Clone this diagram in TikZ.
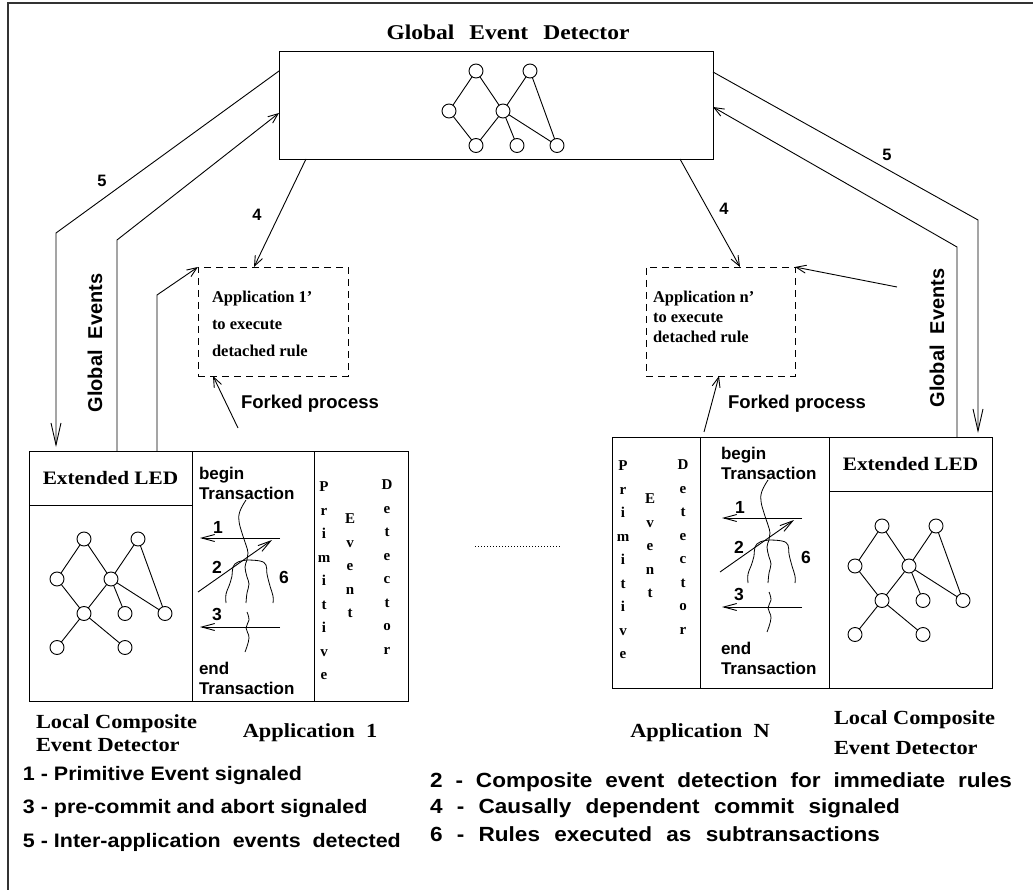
\documentclass[tikz,border=0pt]{standalone}
\usepackage{fontspec}
\setmainfont{Liberation Serif}
\setsansfont{Liberation Sans}
\newfontfamily\wideserif[FakeStretch=1.12]{Liberation Serif}
\newfontfamily\widesans[FakeStretch=1.1]{Liberation Sans}
\usetikzlibrary{arrows.meta,calc}

\newcommand\fsz[2]{\fontsize{#1}{#2}\selectfont}

\tikzset{
  gnode/.style={circle,draw,minimum size=14pt,inner sep=0pt,fill=white},
  colbox/.style={draw,anchor=north west,inner sep=0pt},
  dashbox/.style={draw,anchor=north west,dash pattern=on 7pt off 5pt,line width=0.9pt},
  titlefont/.style={font=\wideserif\bfseries\fsz{21}{25}},
  ledfont/.style={font=\wideserif\bfseries\fsz{19}{23}},
  capfont/.style={font=\wideserif\bfseries\fsz{20}{23}},
  capfontwide/.style={font=\wideserif\bfseries\fsz{20}{30}},
  appfont/.style={font=\bfseries\fsz{16.5}{27}},
  appfontn/.style={font=\bfseries\fsz{16.5}{20}},
  pedfont/.style={font=\bfseries\fsz{15}{23.5},align=center},
  txfont/.style={font=\sffamily\bfseries\fsz{17}{20},align=left,anchor=west},
  numfont/.style={font=\sffamily\bfseries\fsz{17.5}{20}},
  lblfont/.style={font=\sffamily\bfseries\fsz{16.5}{19}},
  forkfont/.style={font=\sffamily\bfseries\fsz{18.5}{22}},
  gefont/.style={font=\sffamily\bfseries\fsz{20}{24}},
  legfont/.style={font=\widesans\bfseries\fsz{19.5}{23},anchor=west},
  legfontr/.style={font=\widesans\bfseries\fsz{20.5}{23},anchor=west},
  bigarrow/.style={-{Straight Barb[length=22pt,width=10pt]}},
  midarrow/.style={-{Straight Barb[length=10pt,width=8pt]}},
  txarrow/.style={-{Straight Barb[length=13pt,width=7pt]}},
  wave/.style={line width=0.8pt},
}

% event graph: #1 name prefix, (#2,#3) top-left circle, #4 = 1 adds the fourth row
\newcommand\evgraph[4]{%
  \begin{scope}[shift={(#2,#3)}]
    \node[gnode] (#1a) at (0,0) {};
    \node[gnode] (#1b) at (54,0) {};
    \node[gnode] (#1c) at (-27,40) {};
    \node[gnode] (#1d) at (27,40) {};
    \node[gnode] (#1e) at (0,74.5) {};
    \node[gnode] (#1f) at (41,74.5) {};
    \node[gnode] (#1g) at (81,74.5) {};
    \draw (#1a) -- (#1c); \draw (#1a) -- (#1d);
    \draw (#1b) -- (#1d); \draw (#1b) -- (#1g);
    \draw (#1c) -- (#1e); \draw (#1d) -- (#1e);
    \draw (#1d) -- (#1f); \draw (#1d) -- (#1g);
    \ifnum#4=1
      \node[gnode] (#1h) at (-27,108.5) {};
      \node[gnode] (#1i) at (41,108.5) {};
      \draw (#1e) -- (#1h); \draw (#1e) -- (#1i);
    \fi
  \end{scope}}

% transaction column: signals, subtransaction threads and labels; #1 name prefix
\newcommand\txcontent[1]{%
  \node[txfont] (#1begin) at (199,483) {begin\\Transaction};
  \node[txfont] (#1end) at (199,678) {end\\Transaction};
  \coordinate (#1s1) at (280,538); \coordinate (#1e1) at (200,538);
  \coordinate (#1s2) at (198,592); \coordinate (#1e2) at (272,540);
  \coordinate (#1s3) at (280,627); \coordinate (#1e3) at (200,627);
  \draw[txarrow] (#1s1) -- (#1e1);
  \draw[txarrow] (#1s2) -- (#1e2);
  \draw[txarrow] (#1s3) -- (#1e3);
  \draw[wave] plot[smooth,tension=0.7] coordinates {(246,500) (240,511) (239,521) (242,533) (246,545) (248,553) (247,560) (245,567) (247,577) (249,584) (247,593) (246,603)};
  \draw[wave] plot[smooth,tension=0.7] coordinates {(247,612) (249,620) (246,628) (249,638) (245,652)};
  \draw[wave] plot[smooth,tension=0.7] coordinates {(247,560) (238,562) (233,567) (232,576) (229,586) (226,594) (226,603)};
  \draw[wave] plot[smooth,tension=0.7] coordinates {(247,560) (260,561) (266,565) (267,574) (270,586) (273,596) (273,603)};
  \node[numfont] (#1n1) at (218,527) {1};
  \node[numfont] (#1n2) at (217,567) {2};
  \node[numfont] (#1n3) at (217,614) {3};
  \node[numfont] (#1n6) at (284,577) {6};
}

\begin{document}
\begin{tikzpicture}[x=1pt,y=-1pt,line width=0.9pt,
  every node/.style={inner sep=0pt,outer sep=0pt}]
\useasboundingbox (0,0) rectangle (1033,890);
\fill[white] (0,0) rectangle (1033,890);

% page frame
\draw[line width=1.2pt,black!80] (8,890) -- (8,3) -- (1033,3);

% global event detector
\node[titlefont] (gedtitle) at (508,32) {Global\hspace{15pt}Event\hspace{15pt}Detector};
\node[draw,minimum width=434pt,minimum height=108pt] (ged) at (496,105) {};
\evgraph{g}{476}{71}{0}

% left site: local composite event detector and application 1
\node[colbox,minimum width=163pt,minimum height=250pt] (ledl) at (29,451) {};
\node[colbox,minimum width=122pt,minimum height=250pt] (txl) at (192,451) {};
\node[colbox,minimum width=94pt,minimum height=250pt] (pedl) at (314,451) {};
\node[colbox,minimum width=163pt,minimum height=54pt,ledfont] (ledhl) at (29,451) {Extended LED};
\evgraph{l}{84}{539}{1}
\txcontent{tl}
\node[pedfont] (pedl1) at (324,581) {P\\r\\i\\m\\i\\t\\i\\v\\e};
\node[pedfont] (pedl2) at (350,566) {E\\v\\e\\n\\t};
\node[pedfont] (pedl3) at (387,567) {D\\e\\t\\e\\c\\t\\o\\r};

% right site: application N and its local composite event detector
\node[colbox,minimum width=88pt,minimum height=251pt] (pedr) at (612,437) {};
\node[colbox,minimum width=129pt,minimum height=251pt] (txr) at (700,437) {};
\node[colbox,minimum width=163pt,minimum height=251pt] (ledr) at (829,437) {};
\node[colbox,minimum width=163pt,minimum height=54pt,ledfont] (ledhr) at (829,437) {Extended LED};
\evgraph{r}{882}{526}{1}
\begin{scope}[shift={(522,-20)}]
  \txcontent{tr}
\end{scope}
\node[pedfont] (pedr1) at (623,560) {P\\r\\i\\m\\i\\t\\i\\v\\e};
\node[pedfont] (pedr2) at (650,546) {E\\v\\e\\n\\t};
\node[pedfont] (pedr3) at (683,547) {D\\e\\t\\e\\c\\t\\o\\r};

% forked applications for detached rules
\node[dashbox,minimum width=150pt,minimum height=109pt] (app1) at (198,267) {};
\node[appfont,anchor=north west,align=left] (app1txt) at (212,291) {Application 1'\\to execute\\detached rule};
\node[dashbox,minimum width=149pt,minimum height=109pt] (appn) at (646,267) {};
\node[appfontn,anchor=north west,align=left] (appntxt) at (653,291) {Application n'\\to execute\\detached rule};

% connectors, left
\coordinate (k5l) at (56,233);
\draw[bigarrow,shorten >=4pt] ([yshift=-20pt]ged.north west) -- (k5l) -- (k5l |- ledhl.north);
\coordinate (kgl) at (117,240);
\draw[midarrow] (kgl |- ledhl.north) -- (kgl) -- ([yshift=-62pt]ged.north west);
\coordinate (kfl) at (157,295);
\draw[midarrow] (kfl |- ledhl.north) -- (kfl) -- (app1.north west);
\coordinate (kfl2) at (238,428);
\draw[midarrow] (kfl2) -- ([xshift=15pt]app1.south west);
\draw[midarrow] ([xshift=27pt]ged.south west) -- ([xshift=56pt]app1.north west);

% connectors, right
\draw[midarrow] ([xshift=401pt]ged.south west) -- ([xshift=94pt]appn.north west);
\coordinate (k5r) at (978,220);
\draw[bigarrow,shorten >=4pt] ([yshift=-21pt]ged.north east) -- (k5r) -- (k5r |- ledhr.north);
\coordinate (kgr) at (957,247);
\draw[midarrow] (kgr |- ledhr.north) -- (kgr) -- ([yshift=-56pt]ged.north east);
\coordinate (kfr) at (897,287);
\draw[midarrow] (kfr) -- (appn.north east);
\coordinate (kfr2) at (704,432);
\draw[midarrow] (kfr2) -- ([xshift=73pt]appn.south west);

% connector labels
\node[lblfont] (l5l) at (102,181) {5};
\node[lblfont] (l4l) at (257,215) {4};
\node[lblfont] (l4r) at (724,209) {4};
\node[lblfont] (l5r) at (887,155) {5};
\node[forkfont] (fkl) at (310,404) {Forked process};
\node[forkfont] (fkr) at (797,404) {Forked process};
\node[gefont,rotate=90] (gel) at (95,343) {Global\ \ Events};
\node[gefont,rotate=90] (ger) at (937,338) {Global\ \ Events};

% further applications in between
\draw[line width=0.8pt,dash pattern=on 1pt off 2pt] (475,546) -- (560,546);

% captions under the sites
\node[capfont,align=left,anchor=west] (lcl) at (36,733.5) {Local Composite\\Event Detector};
\node[capfont] (ap1) at (310,733) {Application\ \ 1};
\node[capfont] (apn) at (700,733) {Application\ \ N};
\node[capfontwide,align=left,anchor=west] (lcr) at (834,733) {Local Composite\\Event Detector};

% legend
\node[legfont] (lg1) at (23,775) {1 - Primitive Event signaled};
\node[legfont] (lg3) at (23,808) {3 - pre-commit and abort signaled};
\node[legfont] (lg5) at (23,842) {5 - Inter-application\ \ events\ \ detected};
\node[legfontr] (lg2) at (430,782) {\makebox[582pt][s]{2 - Composite event detection for immediate rules}};
\node[legfontr] (lg4) at (430,808) {\makebox[470pt][s]{4 - Causally dependent commit signaled}};
\node[legfontr] (lg6) at (430,834) {\makebox[450pt][s]{6 - Rules executed as subtransactions}};
\end{tikzpicture}
\end{document}
